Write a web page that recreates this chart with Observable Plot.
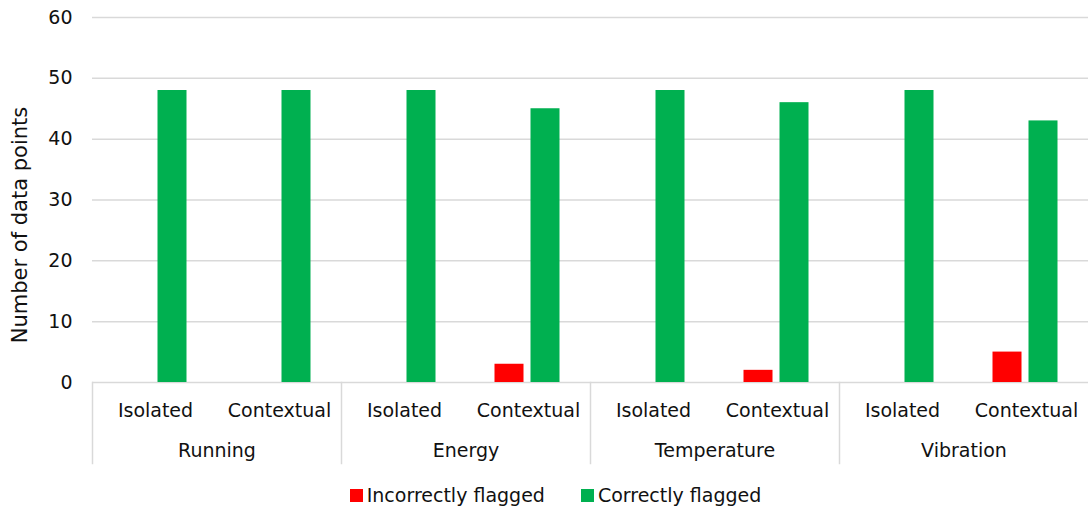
<!DOCTYPE html>
<html>
<head>
<meta charset="utf-8">
<script src="https://cdn.jsdelivr.net/npm/d3@7"></script>
<script src="https://cdn.jsdelivr.net/npm/@observablehq/plot@0.6"></script>
<style>
  body { margin: 0; background: #fff; font-family: "DejaVu Sans", sans-serif; }
  #chart svg { overflow: visible; }
  .legend { display: flex; justify-content: center; gap: 36px; font-size: 19px; color: #111; padding-top: 14px; padding-left: 22px; }
  .legend span.sw { display: inline-block; width: 13px; height: 13px; margin-right: 4px; vertical-align: 0px; }
</style>
</head>
<body>
<div id="chart"></div>
<script>
const groups = ["Running", "Energy", "Temperature", "Vibration"];
const subs = ["Isolated", "Contextual"];
const series = ["Incorrectly flagged", "Correctly flagged"];
const colors = ["#ff0000", "#00b050"];
// values per (group, sub) in order Running-Iso, Running-Ctx, Energy-Iso, ...
const incorrect = [0, 0, 0, 3, 0, 2, 0, 5];
const correct = [48, 48, 48, 45, 48, 46, 48, 43];
const yTicks = [0, 10, 20, 30, 40, 50, 60];
const yLabel = "Number of data points";

const rows = [];
groups.forEach((g, i) => subs.forEach((s, j) => {
  const k = i * subs.length + j;
  rows.push({group: g, sub: s, series: series[0], value: incorrect[k]});
  rows.push({group: g, sub: s, series: series[1], value: correct[k]});
}));
const labels = [];
groups.forEach(g => subs.forEach(s => labels.push({group: g, sub: s})));

const font = "DejaVu Sans, sans-serif";
const plot = Plot.plot({
  width: 1089,
  height: 470,
  marginTop: 17,
  marginBottom: 88,
  marginLeft: 90,
  marginRight: 0,
  style: {fontFamily: font, fontSize: "19px", color: "#111", background: "#fff"},
  fx: {domain: groups, padding: 0, axis: null},
  x: {domain: subs, padding: 0, axis: null},
  y: {domain: [0, 60], axis: null},
  color: {domain: series, range: colors},
  marks: [
    Plot.gridY(yTicks, {stroke: "#d9d9d9", strokeOpacity: 1, strokeWidth: 1.5}),
    Plot.axisY(yTicks, {tickSize: 0, tickPadding: 20, label: null, fontSize: 19}),
    Plot.text([yLabel], {fx: () => groups[0], frameAnchor: "left", textAnchor: "middle", lineAnchor: "middle", rotate: -90, dx: -72, dy: 25, fontSize: 21, fill: "#111"}),
    Plot.frame({anchor: "left", stroke: "#d9d9d9", strokeWidth: 1.5, insetTop: 365, insetBottom: -81}),
    Plot.barY(rows.filter(d => d.series === series[0]), {fx: "group", x: "sub", y: "value", fill: "series", dx: -19, insetLeft: 47.5, insetRight: 47.5}),
    Plot.barY(rows.filter(d => d.series === series[1]), {fx: "group", x: "sub", y: "value", fill: "series", dx: 17, insetLeft: 47.5, insetRight: 47.5}),
    Plot.text(labels, {fx: "group", x: "sub", text: "sub", frameAnchor: "bottom", dy: 34, fontSize: 19, fill: "#111"}),
    Plot.text(groups, {fx: d => d, text: d => d, frameAnchor: "bottom", dy: 74, fontSize: 19, fill: "#111"})
  ]
});
document.getElementById("chart").appendChild(plot);

const legend = document.createElement("div");
legend.className = "legend";
series.forEach((s, i) => {
  const item = document.createElement("div");
  const sw = document.createElement("span");
  sw.className = "sw";
  sw.style.background = colors[i];
  item.appendChild(sw);
  item.appendChild(document.createTextNode(s));
  legend.appendChild(item);
});
document.body.appendChild(legend);
</script>
</body>
</html>
